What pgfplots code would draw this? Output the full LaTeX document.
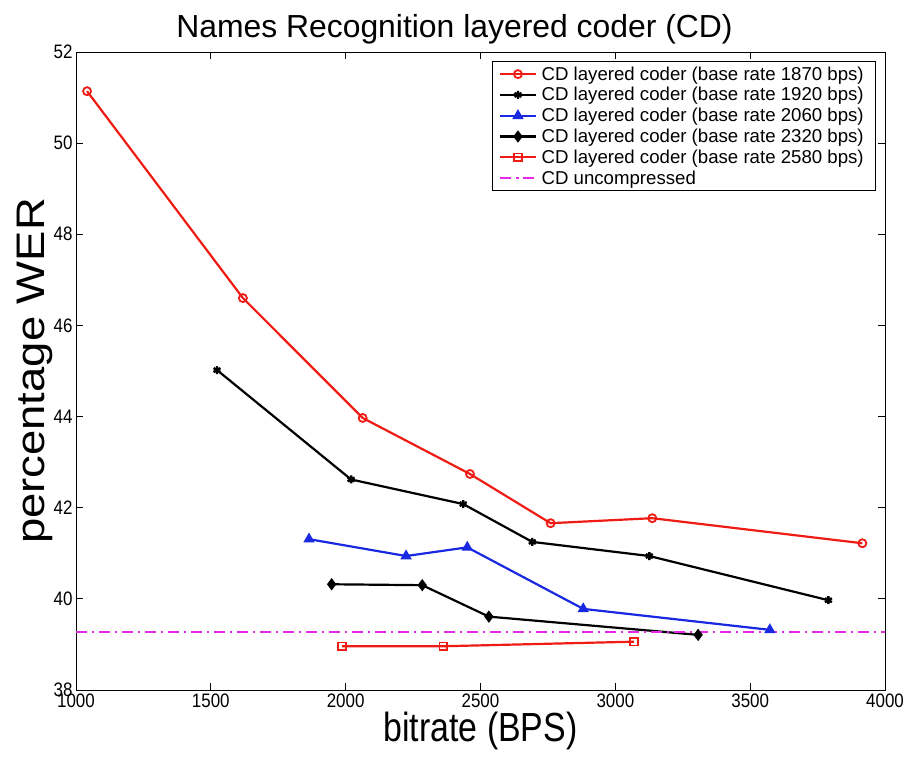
\documentclass[border=0pt]{standalone}
\usepackage{fontspec}
\setmainfont{Liberation Sans}
\usepackage{graphicx}
\usepackage{pgfplots}
\pgfplotsset{compat=1.18}
\usetikzlibrary{calc}
\definecolor{cred}{RGB}{238,28,20}
\definecolor{cblue}{RGB}{25,40,225}
\definecolor{cmag}{RGB}{232,40,232}
\begin{document}
\begin{tikzpicture}
\begin{axis}[name=ax, scale only axis, width=809bp, height=638bp,
  xmin=1000, xmax=4000, ymin=38, ymax=52,
  xtick={1000,1500,...,4000}, ytick={38,40,...,52},
  tick align=inside, major tick length=7bp,
  axis line style={line width=0.9bp},
  every tick/.style={line width=0.9bp, black},
  /pgf/number format/assume math mode=true,
  /pgf/number format/1000 sep={},
  tick label style={font=\fontsize{17}{19}\selectfont},
  xticklabel={\scalebox{1}[1.15]{\pgfmathprintnumber{\tick}}},
  yticklabel={\scalebox{1}[1.15]{\pgfmathprintnumber{\tick}}},
  title={Names Recognition layered coder (CD)},
  title style={font=\fontsize{32}{36}\selectfont, xshift=-26bp, yshift=-2bp},
  xlabel={\scalebox{1}[1.2]{bitrate (BPS)}},
  ylabel={\scalebox{1.14}[1]{percentage WER}},
  xlabel style={font=\fontsize{34}{38}\selectfont, yshift=2bp},
  ylabel style={font=\fontsize{40}{44}\selectfont, yshift=-6bp},
  legend style={at={(rel axis cs:0.989,0.986)}, anchor=north east,
    font=\fontsize{18.7}{20}\selectfont, draw=black, line width=0.8bp,
    cells={anchor=west}, row sep=1.2bp, inner xsep=7bp, inner ysep=3bp,
    nodes={inner ysep=2.3bp, inner xsep=5bp}},
  legend image code/.code={\draw[mark repeat=2,mark phase=2] plot coordinates {(0cm,0cm) (0.62cm,0cm) (1.24cm,0cm)};},
  every axis plot/.append style={line width=2.2bp},
]
\addplot[draw=cred, color=cred, line width=2.2bp, mark=o, mark size=4bp, mark options={solid, line width=1.8bp}] coordinates {
(1041,51.14) (1619,46.60) (2063,43.97) (2461,42.74) (2760,41.66) (3137,41.77) (3916,41.22)};
\addlegendentry{CD layered coder (base rate 1870 bps)}
\addplot[draw=black, color=black, line width=2.2bp, mark=asterisk, mark size=4bp, mark options={solid, line width=2.4bp}] coordinates {
(1523,45.02) (2020,42.62) (2436,42.08) (2692,41.25) (3126,40.94) (3790,39.97)};
\addlegendentry{CD layered coder (base rate 1920 bps)}
\addplot[draw=cblue, color=cblue, line width=2.2bp, mark=triangle*, mark size=4.4bp, mark options={solid}] coordinates {
(1864,41.31) (2224,40.94) (2451,41.13) (2881,39.78) (3573,39.32)};
\addlegendentry{CD layered coder (base rate 2060 bps)}
\addplot[draw=black, color=black, line width=2.2bp, mark=diamond*, mark size=4.4bp, mark options={solid}] coordinates {
(1948,40.32) (2284,40.30) (2531,39.61) (3307,39.21)};
\addlegendentry{CD layered coder (base rate 2320 bps)}
\addplot[draw=cred, color=cred, line width=2.2bp, mark=square, mark size=3.8bp, mark options={solid, line width=1.8bp}] coordinates {
(1987,38.96) (2362,38.96) (3069,39.06)};
\addlegendentry{CD layered coder (base rate 2580 bps)}
\addplot[draw=cmag, color=cmag, dash pattern=on 11bp off 5bp on 2bp off 5bp, line width=2.2bp, no marks] coordinates {
(1000,39.28) (4000,39.28)};
\addlegendentry{CD uncompressed}
\end{axis}
\pgfresetboundingbox
\path[use as bounding box] ($(ax.south west)+(-76bp,-67bp)$) rectangle ($(ax.north east)+(22bp,52bp)$);
\end{tikzpicture}
\end{document}
